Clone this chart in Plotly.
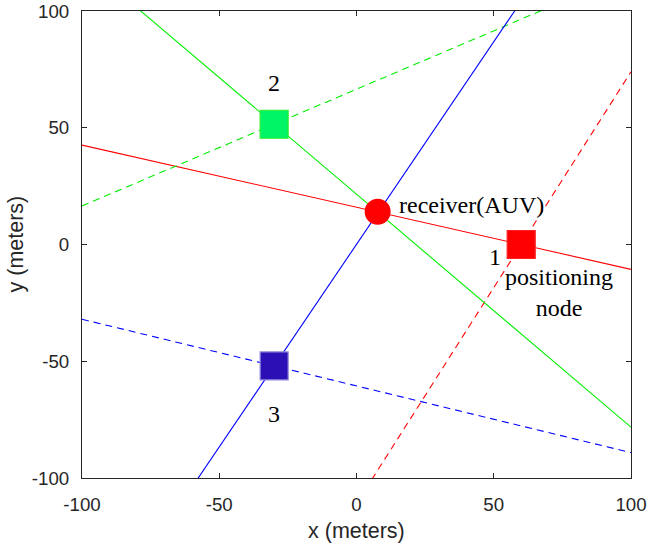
import plotly.graph_objects as go
import numpy as np

# ---- data ----
node_x = [60, -30, -30]
node_y = [0, 51.5, -52]
node_labels = ["1", "2", "3"]
node_fill = ["#FF0000", "#00F566", "#2C10B6"]
node_edge = ["#FF2020", "#30F030", "#9088DC"]
line_colors = ["#FF0000", "#00EE00", "#0000FF"]

receiver_x = [7.7]
receiver_y = [14]

solid_slopes = [-0.266, -0.998, 1.735]    # lines through node and receiver
dashed_slopes = [1.849, 0.5, -0.2855]     # second line through each node

x_range = [-100, 100]
y_range = [-100, 100]
tick_vals = [-100, -50, 0, 50, 100]
tick_text = ["-100", "-50", "0", "50", "100"]

fig = go.Figure()

xs = np.array(x_range, dtype=float)
for i in range(3):
    for slopes, dash in ((solid_slopes, "solid"), (dashed_slopes, "7px,5px")):
        ys = node_y[i] + slopes[i] * (xs - node_x[i])
        fig.add_trace(go.Scatter(x=xs, y=ys, mode="lines",
                                 line=dict(color=line_colors[i], width=1.1, dash=dash),
                                 hoverinfo="skip", showlegend=False))

fig.add_trace(go.Scatter(x=node_x, y=node_y, mode="markers",
                         marker=dict(symbol="square", size=28, color=node_fill,
                                     line=dict(color=node_edge, width=1.2)),
                         showlegend=False))
fig.add_trace(go.Scatter(x=receiver_x, y=receiver_y, mode="markers",
                         marker=dict(symbol="circle", size=26, color="#FF0000",
                                     line=dict(color="#FF0000", width=0)),
                         showlegend=False))

serif = dict(family="Liberation Serif, Times New Roman, serif", size=24, color="#000000")
ann = [
    dict(x=-30, y=69.2, text="2", xanchor="center", yanchor="middle"),
    dict(x=-30, y=-72.5, text="3", xanchor="center", yanchor="middle"),
    dict(x=53.3, y=-5.4, text="1", xanchor="right", yanchor="middle"),
    dict(x=73.7, y=-20.6, text="positioning<br>node", xanchor="center", yanchor="middle"),
    dict(x=14.6, y=16.8, text="receiver(AUV)", xanchor="left", yanchor="middle"),
]
annotations = [dict(a, xref="x", yref="y", showarrow=False, font=serif) for a in ann]

sans_title = dict(family="Liberation Sans, Arial, sans-serif", size=21.5, color="#262626")
annotations.append(dict(x=0.5, y=-(531 - 478) / 467, xref="paper", yref="paper",
                        text="x (meters)", showarrow=False, font=sans_title,
                        xanchor="center", yanchor="middle"))
annotations.append(dict(x=-(82 - 15) / 549, y=0.5, xref="paper", yref="paper",
                        text="y (meters)", showarrow=False, font=sans_title, textangle=-90,
                        xanchor="center", yanchor="middle"))

axis_common = dict(
    showgrid=False, zeroline=False, showline=True, linecolor="#262626", linewidth=1,
    mirror="ticks", ticks="inside", ticklen=5, tickwidth=1, tickcolor="#262626",
    tickvals=tick_vals, ticktext=tick_text, automargin=False,
    tickfont=dict(family="Liberation Sans, Arial, sans-serif", size=18.7, color="#262626"),
)

fig.update_layout(
    width=648, height=544,
    margin=dict(l=82, r=17, t=11, b=66),
    paper_bgcolor="white", plot_bgcolor="white",
    xaxis=dict(axis_common, range=x_range, ticklabelstandoff=10),
    yaxis=dict(axis_common, range=y_range, ticklabelstandoff=8),
    annotations=annotations,
    showlegend=False,
)

# remove the browser's default 8px body margin so the figure fills the window exactly
fig.write_html("out.html",
               config={"displayModeBar": False},
               post_script="document.body.style.margin='0';document.body.style.overflow='hidden';")
